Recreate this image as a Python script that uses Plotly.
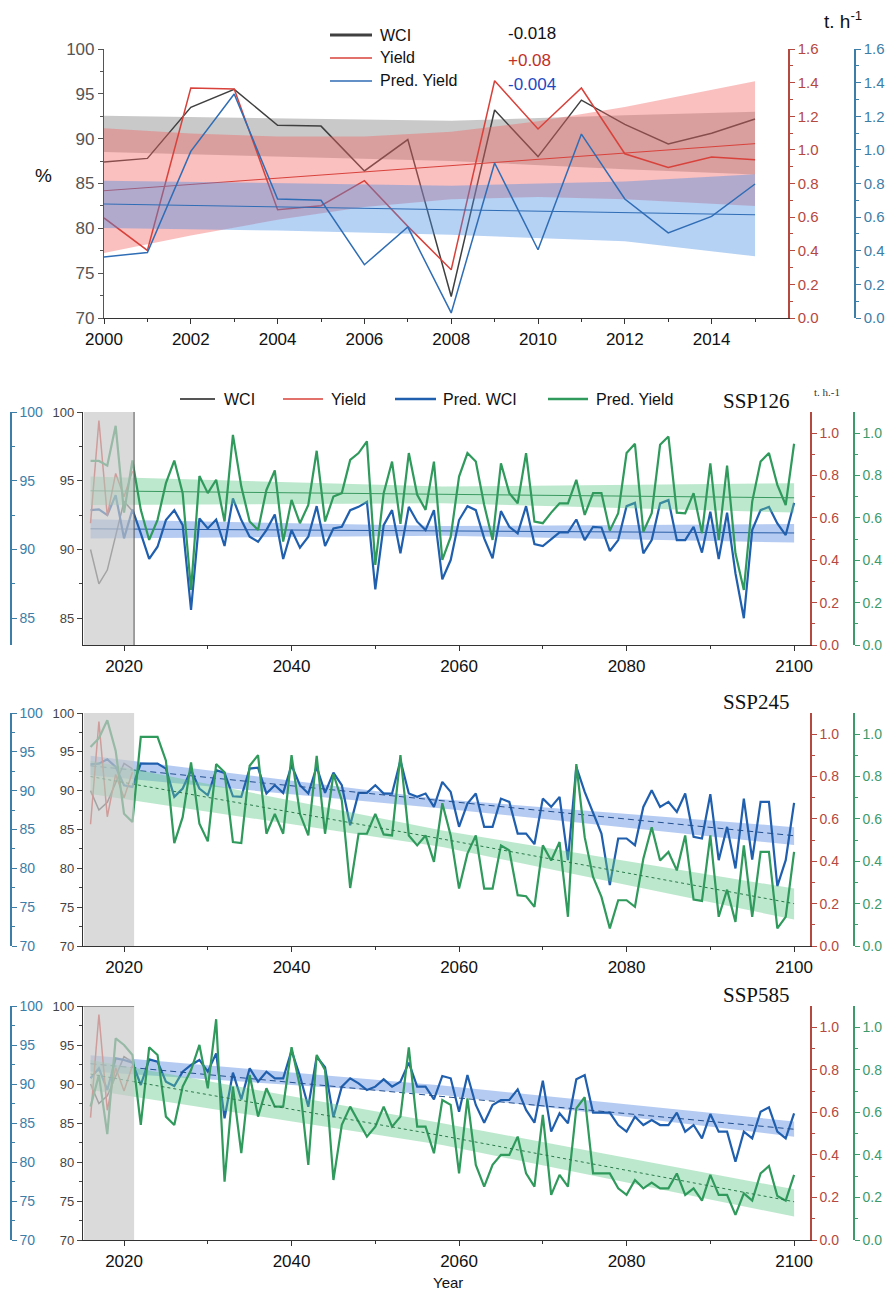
import plotly.graph_objects as go

# The page body has an 8px margin, so the figure is sized to fit the 896x1300
# window and pixel positions below are given in window pixels.
OFF = 8
W, H = 896 - 2 * OFF, 1300 - 2 * OFF
FONT = "Liberation Sans, Arial, sans-serif"
SERIF = "Liberation Serif, DejaVu Serif, serif"

def fx(p):
    return (p - OFF) / W

def fy(p):
    return 1 - (p - OFF) / H

# ---------------- Panel 1 data (2000-2015) ----------------
obs_years = list(range(2000, 2016))
obs_wci = [87.4, 87.8, 93.5, 95.5, 91.5, 91.4, 86.4, 89.9, 72.4, 93.2, 88.0, 94.3, 91.6, 89.4, 90.6, 92.2]
obs_yield = [0.595, 0.402, 1.368, 1.362, 0.644, 0.668, 0.817, 0.545, 0.287, 1.411, 1.124, 1.368, 0.977, 0.896, 0.958, 0.942]
obs_pred_yield = [0.363, 0.390, 0.991, 1.332, 0.708, 0.700, 0.317, 0.541, 0.030, 0.922, 0.406, 1.094, 0.708, 0.506, 0.604, 0.797]

wci_band_x = [2000, 2004, 2008, 2012, 2015]
wci_band_hi = [92.55, 92.3, 92.0, 92.6, 93.0]
wci_band_lo = [88.5, 88.0, 87.5, 86.6, 86.0]

yield_band_x = [2000, 2002, 2004, 2006, 2008, 2010, 2012, 2015]
yield_band_hi = [1.128, 1.098, 1.079, 1.079, 1.108, 1.170, 1.255, 1.408]
yield_band_lo = [0.386, 0.490, 0.584, 0.660, 0.706, 0.719, 0.707, 0.666]
yield_trend_x = [2000, 2015]
yield_trend = [0.757, 1.037]

pyield_band_x = [2000, 2004, 2008, 2012, 2015]
pyield_band_hi = [0.817, 0.800, 0.787, 0.812, 0.855]
pyield_band_lo = [0.535, 0.520, 0.495, 0.456, 0.367]
pyield_trend_x = [2000, 2015]
pyield_trend = [0.678, 0.614]

slope_labels = ["-0.018", "+0.08", "-0.004"]

# ---------------- Scenario data (2016-2100) ----------------
years = list(range(2016, 2101))
hist_years = list(range(2016, 2022))
hist_wci = [90.0, 87.5, 88.5, 91.0, 93.5, 92.8]
hist_yield = [0.575, 1.060, 0.610, 0.810, 0.700, 0.820]

ssp126_wci = [92.86, 92.91, 92.50, 93.95, 90.81, 92.91, 91.17, 89.31, 90.20, 92.14,
              92.86, 91.77, 85.60, 92.26, 91.53, 92.18, 90.25, 93.71, 92.14, 90.93,
              90.56, 91.41, 92.55, 89.31, 91.41, 90.13, 90.93, 93.15, 90.25, 91.53,
              91.65, 92.86, 93.10, 93.47, 87.10, 91.77, 92.86, 89.72, 93.10, 92.02,
              91.41, 92.86, 87.83, 89.23, 92.14, 93.15, 92.86, 90.81, 89.35, 92.79,
              91.65, 91.17, 93.15, 90.39, 90.25, 90.73, 91.24, 91.24, 92.18, 90.68,
              91.65, 91.60, 89.89, 90.68, 93.15, 93.39, 89.72, 90.68, 93.35, 93.59,
              90.68, 90.68, 91.65, 89.77, 92.74, 89.31, 92.67, 88.27, 85.00, 91.41,
              92.86, 93.10, 91.89, 91.05, 93.39]
ssp126_yield = [0.869, 0.869, 0.847, 1.035, 0.625, 0.871, 0.638, 0.496, 0.591, 0.764,
                0.871, 0.717, 0.260, 0.798, 0.717, 0.780, 0.583, 0.992, 0.748, 0.583,
                0.543, 0.732, 0.824, 0.488, 0.685, 0.575, 0.661, 0.917, 0.583, 0.701,
                0.717, 0.874, 0.906, 0.961, 0.378, 0.717, 0.866, 0.572, 0.906, 0.709,
                0.638, 0.866, 0.402, 0.510, 0.795, 0.906, 0.866, 0.661, 0.496, 0.858,
                0.717, 0.669, 0.906, 0.583, 0.575, 0.625, 0.669, 0.669, 0.780, 0.614,
                0.717, 0.717, 0.540, 0.622, 0.906, 0.950, 0.535, 0.622, 0.945, 0.984,
                0.625, 0.622, 0.717, 0.528, 0.858, 0.496, 0.847, 0.433, 0.260, 0.677,
                0.866, 0.906, 0.756, 0.661, 0.950]

ssp245_wci = [93.40, 93.48, 94.04, 93.06, 90.70, 90.48, 93.48, 93.48, 93.48, 92.84,
              89.20, 90.27, 92.63, 90.27, 89.41, 92.63, 92.28, 89.28, 89.20, 92.84,
              92.97, 89.63, 90.70, 89.71, 93.27, 90.70, 89.63, 93.06, 89.71, 92.33,
              90.70, 85.56, 89.71, 89.71, 90.70, 89.63, 89.63, 93.91, 89.63, 89.20,
              89.63, 87.91, 91.13, 89.84, 85.34, 88.34, 89.63, 85.34, 85.34, 88.98,
              88.56, 84.48, 84.48, 83.11, 88.98, 87.91, 89.20, 81.05, 93.06, 89.84,
              87.06, 84.48, 77.84, 83.84, 83.84, 82.98, 87.91, 90.06, 87.91, 88.56,
              87.27, 89.63, 84.06, 83.84, 89.54, 81.05, 85.34, 79.98, 88.98, 81.14,
              88.56, 88.56, 77.71, 81.05, 88.43]
ssp245_yield = [0.940, 0.981, 1.066, 0.922, 0.624, 0.585, 0.987, 0.987, 0.987, 0.875,
                0.486, 0.608, 0.867, 0.577, 0.494, 0.859, 0.820, 0.491, 0.486, 0.851,
                0.901, 0.530, 0.624, 0.530, 0.901, 0.624, 0.522, 0.898, 0.530, 0.812,
                0.687, 0.274, 0.530, 0.530, 0.624, 0.527, 0.522, 0.901, 0.522, 0.475,
                0.522, 0.397, 0.674, 0.522, 0.271, 0.436, 0.522, 0.271, 0.271, 0.475,
                0.451, 0.240, 0.235, 0.185, 0.475, 0.404, 0.491, 0.138, 0.859, 0.514,
                0.326, 0.232, 0.083, 0.216, 0.216, 0.185, 0.412, 0.561, 0.404, 0.444,
                0.357, 0.522, 0.219, 0.213, 0.522, 0.138, 0.266, 0.114, 0.475, 0.138,
                0.444, 0.444, 0.083, 0.138, 0.444]

ssp585_wci = [90.73, 92.01, 89.23, 93.29, 93.08, 92.74, 89.87, 93.16, 92.86, 90.30,
              89.74, 91.58, 92.44, 93.08, 91.58, 93.93, 85.60, 91.45, 88.03, 92.01,
              90.30, 91.58, 90.73, 90.73, 94.27, 91.03, 87.09, 93.50, 92.14, 85.73,
              89.66, 90.73, 90.09, 89.23, 89.66, 90.60, 89.66, 90.30, 92.74, 89.66,
              89.66, 88.03, 91.03, 90.73, 86.45, 91.15, 87.31, 85.04, 87.31, 87.95,
              87.95, 89.32, 86.67, 85.04, 90.43, 83.89, 86.24, 84.96, 90.60, 91.15,
              86.32, 86.32, 86.32, 84.74, 83.89, 85.81, 84.74, 85.38, 84.74, 84.74,
              86.32, 83.89, 84.74, 83.03, 86.15, 83.89, 83.89, 80.04, 83.89, 83.03,
              86.45, 87.01, 83.89, 83.03, 86.24]
ssp585_yield = [0.627, 0.776, 0.498, 0.948, 0.917, 0.870, 0.541, 0.906, 0.870, 0.580,
                0.541, 0.721, 0.799, 0.917, 0.713, 1.038, 0.274, 0.721, 0.408, 0.776,
                0.580, 0.713, 0.627, 0.627, 0.906, 0.721, 0.353, 0.870, 0.799, 0.282,
                0.541, 0.627, 0.556, 0.486, 0.533, 0.627, 0.533, 0.580, 0.906, 0.533,
                0.533, 0.408, 0.658, 0.635, 0.313, 0.666, 0.353, 0.251, 0.353, 0.400,
                0.400, 0.486, 0.313, 0.251, 0.588, 0.212, 0.306, 0.251, 0.619, 0.671,
                0.313, 0.313, 0.313, 0.243, 0.212, 0.282, 0.243, 0.270, 0.243, 0.243,
                0.313, 0.212, 0.243, 0.185, 0.306, 0.212, 0.212, 0.118, 0.219, 0.185,
                0.313, 0.348, 0.207, 0.185, 0.306]

band_x = [2016, 2058, 2100]
scen = {
    "SSP126": dict(wci=ssp126_wci, yld=ssp126_yield,
                   wci_hi=[92.2, 91.7, 91.85], wci_lo=[90.8, 91.0, 90.5], wci_tr=[91.5, 91.35, 91.2],
                   y_hi=[0.795, 0.748, 0.764], y_lo=[0.661, 0.669, 0.625], y_tr=[0.728, 0.71, 0.695],
                   ylo_pct=83.05, style="solid"),
    "SSP245": dict(wci=ssp245_wci, yld=ssp245_yield,
                   wci_hi=[94.5, 88.9, 85.3], wci_lo=[92.0, 87.7, 83.0], wci_tr=[93.2, 88.7, 84.2],
                   y_hi=[0.875, 0.545, 0.271], y_lo=[0.718, 0.467, 0.125], y_tr=[0.80, 0.505, 0.20],
                   ylo_pct=70, style="dash"),
    "SSP585": dict(wci=ssp585_wci, yld=ssp585_yield,
                   wci_hi=[93.7, 89.8, 85.2], wci_lo=[91.6, 88.6, 83.25], wci_tr=[92.6, 88.4, 84.2],
                   y_hi=[0.846, 0.549, 0.238], y_lo=[0.705, 0.447, 0.110], y_tr=[0.78, 0.49, 0.18],
                   ylo_pct=70, style="dash"),
}

# ---------------- colours ----------------
C_BLACK = "#404040"
C_RED = "#d8423b"
C_BLUE = "#2f6db5"
C_PBLUE = "#1f5fae"
C_GREEN = "#2f9a5c"
C_REDAX = "#b5483f"
C_TEAL = "#3d7ea8"
C_GREENAX = "#3d9a6b"

fig = go.Figure()

def band(x, hi, lo, xa, ya, color):
    fig.add_trace(go.Scatter(x=x + x[::-1], y=hi + lo[::-1], xaxis=xa, yaxis=ya,
                             fill="toself", fillcolor=color, line=dict(width=0),
                             mode="lines", showlegend=False, hoverinfo="skip"))

def line(x, y, xa, ya, color, width, dash="solid"):
    fig.add_trace(go.Scatter(x=x, y=y, xaxis=xa, yaxis=ya, mode="lines",
                             line=dict(color=color, width=width, dash=dash),
                             showlegend=False))

# ---------------- Panel 1 ----------------
band(wci_band_x, wci_band_hi, wci_band_lo, "x", "y", "rgba(120,120,120,0.40)")
band(yield_band_x, yield_band_hi, yield_band_lo, "x", "y2", "rgba(242,95,95,0.40)")
band(pyield_band_x, pyield_band_hi, pyield_band_lo, "x", "y3", "rgba(70,140,228,0.40)")
line(yield_trend_x, yield_trend, "x", "y2", C_RED, 1)
line(pyield_trend_x, pyield_trend, "x", "y3", C_BLUE, 1)
line(obs_years, obs_wci, "x", "y", C_BLACK, 1.5)
line(obs_years, obs_yield, "x", "y2", C_RED, 1.5)
line(obs_years, obs_pred_yield, "x", "y3", C_BLUE, 1.5)

# ---------------- Panels 2-4 ----------------
panel_px = {"SSP126": (412, 645), "SSP245": (713, 946), "SSP585": (1006, 1240)}
axes_layout = {}
shapes = []
annotations = []
XL, XR = 83, 810
XRANGE = [2015.1, 2101.9]
GRAY_X1 = 2021.2

for i, name in enumerate(["SSP126", "SSP245", "SSP585"]):
    d = scen[name]
    k = i + 2
    xa = f"x{k}"
    base = 4 + 4 * i
    y_in, y_out, y_red, y_grn = base, base + 1, base + 2, base + 3
    top, bot = panel_px[name]
    dom = [fy(bot), fy(top)]
    prange = [d["ylo_pct"], 100]

    band(band_x, d["wci_hi"], d["wci_lo"], xa, f"y{y_out}", "rgba(90,140,225,0.45)")
    band(band_x, d["y_hi"], d["y_lo"], xa, f"y{y_grn}", "rgba(95,200,135,0.42)")
    line(hist_years, hist_wci, xa, f"y{y_in}", "#555555", 1.5)
    line(hist_years, hist_yield, xa, f"y{y_red}", C_RED, 1.5)
    line(years, d["wci"], xa, f"y{y_out}", C_PBLUE, 2.2)
    line(years, d["yld"], xa, f"y{y_grn}", C_GREEN, 2.2)
    if d["style"] == "solid":
        line(band_x, d["wci_tr"], xa, f"y{y_out}", "#2a5ea8", 1)
        line(band_x, d["y_tr"], xa, f"y{y_grn}", "#3a9a60", 1)
    else:
        line(band_x, d["wci_tr"], xa, f"y{y_out}", "#23508f", 1, "6px,4px")
        line(band_x, d["y_tr"], xa, f"y{y_grn}", "#2a7a4a", 1, "dot")

    axes_layout[f"xaxis{k}"] = dict(
        domain=[fx(XL), fx(XR)], range=XRANGE, anchor=f"y{y_in}", automargin=False,
        tickvals=[2020, 2040, 2060, 2080, 2100], ticks="outside", ticklen=5,
        minor=dict(tickvals=[2030, 2050, 2070, 2090], ticks="outside", ticklen=3, tickcolor="#333"),
        showline=True, linecolor="#333", linewidth=1.2, showgrid=False, zeroline=False,
        tickfont=dict(size=17, color="#111", family=FONT), tickcolor="#333")
    axes_layout[f"yaxis{y_in}"] = dict(
        domain=dom, range=prange, anchor=xa, side="left", dtick=5, tick0=70, automargin=False,
        ticks="outside", ticklen=5, minor=dict(dtick=2.5, ticks="outside", ticklen=3, tickcolor="#444"),
        showline=True, linecolor="#333", linewidth=1.2, showgrid=False, zeroline=False,
        tickfont=dict(size=13, color="#444", family=FONT), tickcolor="#444")
    axes_layout[f"yaxis{y_out}"] = dict(
        overlaying=f"y{y_in}", range=prange, anchor="free", position=fx(11), side="right",
        dtick=5, tick0=70, ticks="outside", ticklen=5, automargin=False,
        minor=dict(dtick=2.5, ticks="outside", ticklen=3, tickcolor=C_TEAL),
        showline=True, linecolor=C_TEAL, linewidth=1.5, showgrid=False, zeroline=False,
        tickfont=dict(size=14, color=C_TEAL, family=FONT), tickcolor=C_TEAL)
    axes_layout[f"yaxis{y_red}"] = dict(
        overlaying=f"y{y_in}", range=[0, 1.1], anchor=xa, side="right", automargin=False,
        tickvals=[0, 0.2, 0.4, 0.6, 0.8, 1.0], tickformat=".1f", ticks="outside", ticklen=5,
        minor=dict(tickvals=[0.1, 0.3, 0.5, 0.7, 0.9], ticks="outside", ticklen=3, tickcolor=C_REDAX),
        showline=True, linecolor=C_REDAX, linewidth=1.5, showgrid=False, zeroline=False,
        tickfont=dict(size=14, color=C_REDAX, family=FONT), tickcolor=C_REDAX)
    axes_layout[f"yaxis{y_grn}"] = dict(
        overlaying=f"y{y_in}", range=[0, 1.1], anchor="free", position=fx(854), side="right",
        automargin=False,
        tickvals=[0, 0.2, 0.4, 0.6, 0.8, 1.0], tickformat=".1f", ticks="outside", ticklen=5,
        minor=dict(tickvals=[0.1, 0.3, 0.5, 0.7, 0.9], ticks="outside", ticklen=3, tickcolor=C_GREENAX),
        showline=True, linecolor=C_GREENAX, linewidth=1.5, showgrid=False, zeroline=False,
        tickfont=dict(size=14, color=C_GREENAX, family=FONT), tickcolor=C_GREENAX)

    # historical (grey) period
    shapes.append(dict(type="rect", xref=xa, yref=f"y{y_in}", x0=2015.2, x1=GRAY_X1,
                       y0=prange[0], y1=100, fillcolor="rgba(200,200,200,0.68)",
                       line=dict(width=0), layer="above"))
    if name == "SSP126":
        shapes.append(dict(type="line", xref=xa, yref=f"y{y_in}", x0=GRAY_X1, x1=GRAY_X1,
                           y0=prange[0], y1=100, line=dict(color="#555", width=1), layer="above"))
    if name == "SSP585":
        shapes.append(dict(type="line", xref=xa, yref=f"y{y_in}", x0=2015.1, x1=GRAY_X1,
                           y0=100, y1=100, line=dict(color="#444", width=1.2), layer="above"))

    annotations.append(dict(text=name, x=fx(792), y=fy(top - 11), xref="paper", yref="paper",
                            xanchor="right", yanchor="middle", showarrow=False,
                            font=dict(family=SERIF, size=21, color="#111")))

# ---------------- Panel 1 axes ----------------
layout = dict(
    width=W, height=H, autosize=False,
    margin=dict(l=0, r=0, t=0, b=0, pad=0, autoexpand=False),
    paper_bgcolor="white", plot_bgcolor="rgba(0,0,0,0)",
    showlegend=False,
    font=dict(family=FONT),
    xaxis=dict(domain=[fx(104), fx(788)], range=[2000, 2015.76], anchor="y", automargin=False,
               tickvals=list(range(2000, 2015, 2)), ticks="outside", ticklen=5,
               minor=dict(tickvals=list(range(2001, 2016, 2)), ticks="outside", ticklen=3, tickcolor="#333"),
               showline=True, linecolor="#333", linewidth=1.2, showgrid=False, zeroline=False,
               tickfont=dict(size=17, color="#111", family=FONT), tickcolor="#333"),
    yaxis=dict(domain=[fy(318), fy(49)], range=[70, 100], anchor="x", dtick=5, tick0=70,
               automargin=False,
               ticks="outside", ticklen=5, minor=dict(dtick=2.5, ticks="outside", ticklen=3, tickcolor="#555"),
               showline=True, linecolor="#555", linewidth=1.2, showgrid=False, zeroline=False,
               tickfont=dict(size=17, color="#555", family=FONT), tickcolor="#555"),
    yaxis2=dict(overlaying="y", range=[0, 1.6], anchor="x", side="right", automargin=False,
                tickvals=[0, 0.2, 0.4, 0.6, 0.8, 1.0, 1.2, 1.4, 1.6], tickformat=".1f",
                ticks="outside", ticklen=5,
                minor=dict(tickvals=[0.1, 0.3, 0.5, 0.7, 0.9, 1.1, 1.3, 1.5], ticks="outside", ticklen=3, tickcolor=C_REDAX),
                showline=True, linecolor=C_REDAX, linewidth=1.5, showgrid=False, zeroline=False,
                tickfont=dict(size=15, color=C_REDAX, family=FONT), tickcolor=C_REDAX),
    yaxis3=dict(overlaying="y", range=[0, 1.6], anchor="free", position=fx(855), side="right",
                automargin=False,
                tickvals=[0, 0.2, 0.4, 0.6, 0.8, 1.0, 1.2, 1.4, 1.6], tickformat=".1f",
                ticks="outside", ticklen=5,
                minor=dict(tickvals=[0.1, 0.3, 0.5, 0.7, 0.9, 1.1, 1.3, 1.5], ticks="outside", ticklen=3, tickcolor=C_TEAL),
                showline=True, linecolor=C_TEAL, linewidth=1.5, showgrid=False, zeroline=False,
                tickfont=dict(size=15, color=C_TEAL, family=FONT), tickcolor=C_TEAL),
)
layout.update(axes_layout)

# ---------------- legends (drawn) ----------------
def leg_entry(x0, x1, y, color, width, label, tx, size=16):
    shapes.append(dict(type="line", xref="paper", yref="paper", x0=fx(x0), x1=fx(x1),
                       y0=fy(y), y1=fy(y), line=dict(color=color, width=width)))
    annotations.append(dict(text=label, x=fx(tx), y=fy(y), xref="paper", yref="paper",
                            xanchor="left", yanchor="middle", showarrow=False,
                            font=dict(size=size, color="#111", family=FONT)))

leg_entry(330, 372, 35, C_BLACK, 3, "WCI", 378)
leg_entry(330, 372, 58, C_RED, 1.5, "Yield", 378)
leg_entry(330, 372, 81, C_BLUE, 1.5, "Pred. Yield", 378)
for lab, col, yy in zip(slope_labels, ["#111", "#c0302a", "#1f48c0"], [34, 60, 84]):
    annotations.append(dict(text=lab, x=fx(506), y=fy(yy), xref="paper", yref="paper",
                            xanchor="left", yanchor="middle", showarrow=False,
                            font=dict(size=17, color=col, family=FONT)))

leg_entry(180, 215, 399, "#555555", 2, "WCI", 222)
leg_entry(283, 323, 399, C_RED, 1.5, "Yield", 329)
leg_entry(395, 436, 399, C_PBLUE, 2.5, "Pred. WCI", 441)
leg_entry(548, 588, 399, C_GREEN, 2.5, "Pred. Yield", 594)

annotations.append(dict(text="t. h<sup>-1</sup>", x=fx(822), y=fy(20), xref="paper", yref="paper",
                        xanchor="left", yanchor="middle", showarrow=False,
                        font=dict(size=19, color="#111", family=FONT)))
annotations.append(dict(text="%", x=fx(43), y=fy(175), xref="paper", yref="paper",
                        xanchor="center", yanchor="middle", showarrow=False,
                        font=dict(size=19, color="#111", family=FONT)))
annotations.append(dict(text="t. h.-1", x=fx(812), y=fy(392), xref="paper", yref="paper",
                        xanchor="left", yanchor="middle", showarrow=False,
                        font=dict(size=11, color="#333", family=SERIF)))
annotations.append(dict(text="Year", x=fx(448), y=fy(1282), xref="paper", yref="paper",
                        xanchor="center", yanchor="middle", showarrow=False,
                        font=dict(size=15, color="#111", family=FONT)))

layout["shapes"] = shapes
layout["annotations"] = annotations
fig.update_layout(**layout)
fig.write_html("out.html")
